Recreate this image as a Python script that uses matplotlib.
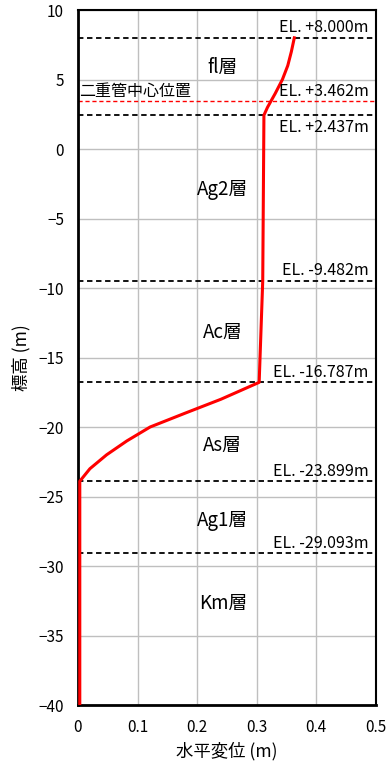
import matplotlib
matplotlib.use("Agg")
import matplotlib.pyplot as plt

plt.rcParams['font.family'] = ['Noto Sans CJK JP', 'DejaVu Sans']

# Horizontal displacement profile (m) against elevation (m)
elevation = [8.0, 7.0, 6.0, 5.0, 4.0, 3.0, 2.437, -9.482, -16.787,
             -18.0, -19.0, -20.0, -21.0, -22.0, -23.0, -23.899, -40.0]
displacement = [0.363, 0.358, 0.352, 0.343, 0.331, 0.318, 0.312, 0.310, 0.304,
                0.240, 0.180, 0.121, 0.082, 0.048, 0.020, 0.003, 0.003]

# Layer boundaries
boundaries = [8.000, 2.437, -9.482, -16.787, -23.899, -29.093]
boundary_labels = ["EL. +8.000m", "EL. +2.437m", "EL. -9.482m", "EL. -16.787m",
                   "EL. -23.899m", "EL. -29.093m"]
pipe_center = 3.462
pipe_label = "EL. +3.462m"
pipe_name = "二重管中心位置"

layers = ["fl層", "Ag2層", "Ac層", "As層", "Ag1層", "Km層"]
layer_y = [5.9, -2.9, -13.2, -21.3, -26.7, -32.7]

fig = plt.figure(figsize=(3.9, 7.71), dpi=100)
ax = fig.add_axes([0.2, 0.0856, 0.764, 0.9014])

ax.set_xlim(0, 0.5)
ax.set_ylim(-40, 10)
ax.set_xticks([0, 0.1, 0.2, 0.3, 0.4, 0.5])
ax.set_xticklabels(["0", "0.1", "0.2", "0.3", "0.4", "0.5"])
ax.set_yticks(range(-40, 11, 5))
ax.grid(True, color="#bfbfbf", linewidth=1.0)
ax.set_axisbelow(True)
ax.tick_params(length=0, labelsize=11)
ax.tick_params(axis="x", pad=10)
ax.tick_params(axis="y", pad=10)

for side in ["left", "bottom"]:
    ax.spines[side].set_linewidth(2.0)
    ax.spines[side].set_color("black")
for side in ["top", "right"]:
    ax.spines[side].set_linewidth(1.5)
    ax.spines[side].set_color("black")

for yb in boundaries:
    ax.axhline(yb, color="black", linestyle=(0, (3, 2)), linewidth=1.3, zorder=2)
ax.axhline(pipe_center, color="red", linestyle=(0, (3, 2)), linewidth=1.0, zorder=2)

ax.plot(displacement, elevation, color="red", linewidth=2.2, zorder=3,
        solid_joinstyle="round")

# Elevation labels at the right edge
for yb, lab in zip(boundaries, boundary_labels):
    if lab == "EL. +2.437m":
        ax.text(0.488, yb - 0.3, lab, ha="right", va="top", fontsize=11.5)
    else:
        ax.text(0.488, yb + 0.1, lab, ha="right", va="bottom", fontsize=11.5)
ax.text(0.488, pipe_center + 0.1, pipe_label, ha="right", va="bottom", fontsize=11.5)
ax.text(0.002, pipe_center + 0.1, pipe_name, ha="left", va="bottom", fontsize=11.5)

for name, yl in zip(layers, layer_y):
    ax.text(0.243, yl, name, ha="center", va="center", fontsize=13.5)

ax.set_xlabel("水平変位 (m)", fontsize=12.5, labelpad=4)
ax.set_ylabel("標高 (m)", fontsize=12.5, labelpad=6)

fig.savefig("out.png", dpi=100)
